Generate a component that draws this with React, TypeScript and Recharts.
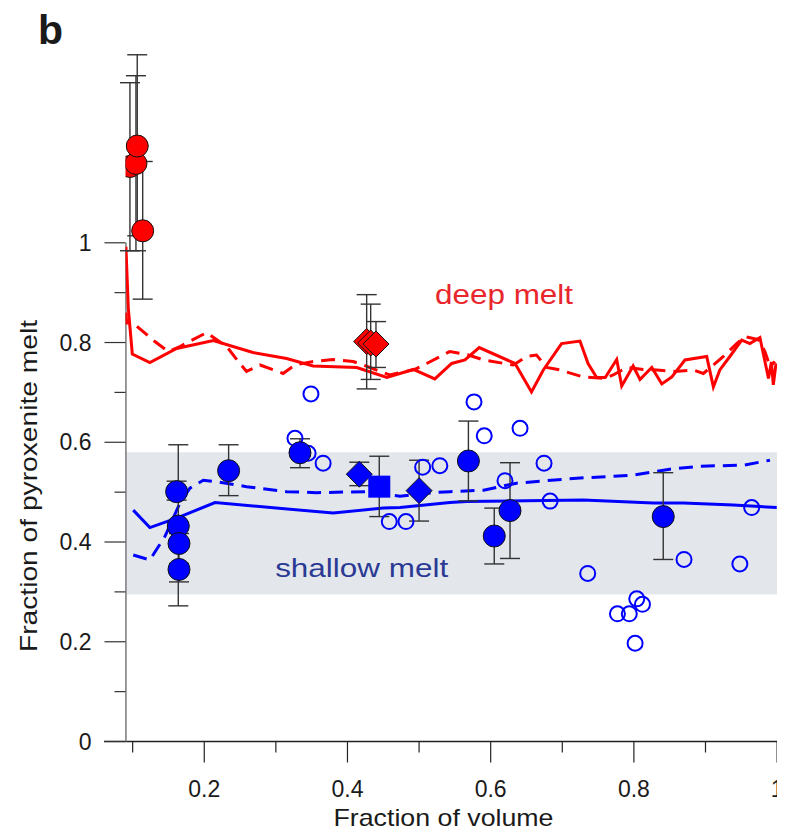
import React from "react";
import {
  ComposedChart,
  XAxis,
  YAxis,
  Scatter,
  Line,
  ErrorBar,
  ReferenceArea,
  ReferenceLine,
  ReferenceDot,
  Label,
} from "recharts";

const FONT = "Arial, 'Liberation Sans', Helvetica, sans-serif";
const RED = "#ff0000";
const BLUE = "#0000ff";

// ---- axes ----
const xTicks = [0.1, 0.2, 0.3, 0.4, 0.5, 0.6, 0.7, 0.8, 0.9, 1.0];
const xTickLabels = ["", "0.2", "", "0.4", "", "0.6", "", "0.8", "", "1"];
const yTicks = [0, 0.1, 0.2, 0.3, 0.4, 0.5, 0.6, 0.7, 0.8, 0.9, 1.0];
const yTickLabels = ["0", "", "0.2", "", "0.4", "", "0.6", "", "0.8", "", "1"];
const xDomain = [0.09, 1.0];
const yDomain = [0, 1.4];

// shaded band (shallow melt range)
const bandLow = 0.295;
const bandHigh = 0.58;

// ---- measured samples: [x, y, errLow, errHigh] ----
const redCircles = [
  [0.0962, 1.153, 0.169, 0.168],
  [0.1046, 1.159, 0.175, 0.176],
  [0.1064, 1.194, 0.18, 0.183],
  [0.114, 1.024, 0.137, 0.139],
];
const redDiamonds = [
  [0.4268, 0.802, 0.095, 0.094],
  [0.4324, 0.799, 0.073, 0.078],
  [0.4398, 0.797, 0.047, 0.045],
];
const blueCircles = [
  [0.1614, 0.501, 0.017, 0.021],
  [0.1637, 0.432, 0.16, 0.163],
  [0.1647, 0.397, 0.077, 0.02],
  [0.1647, 0.345, 0.01, 0.012],
  [0.234, 0.543, 0.05, 0.052],
  [0.3337, 0.579, 0.03, 0.028],
  [0.5689, 0.5625, 0.08, 0.08],
  [0.605, 0.412, 0.056, 0.056],
  [0.627, 0.463, 0.096, 0.096],
  [0.841, 0.451, 0.086, 0.088],
];
const blueDiamonds = [
  [0.4165, 0.536, 0.023, 0.024],
  [0.5, 0.503, 0.061, 0.061],
];
const blueSquares = [[0.4444, 0.511, 0.06, 0.061]];
const openCircles = [
  [0.349, 0.697], [0.3267, 0.608], [0.345, 0.578], [0.366, 0.558],
  [0.4584, 0.441], [0.4817, 0.441], [0.505, 0.55], [0.529, 0.553],
  [0.5767, 0.681], [0.591, 0.613], [0.641, 0.628], [0.62, 0.523],
  [0.6745, 0.558], [0.683, 0.482], [0.7355, 0.337], [0.777, 0.256],
  [0.7936, 0.256], [0.804, 0.286], [0.812, 0.275], [0.8017, 0.197],
  [0.87, 0.365], [0.948, 0.356], [0.9645, 0.469],
];

// ---- model curves: [x, y] ----
const deepSolid = [
  [0.0906, 0.992], [0.0939, 0.869], [0.0995, 0.777], [0.124, 0.76], [0.1614, 0.788],
  [0.2126, 0.804], [0.268, 0.78], [0.315, 0.768], [0.352, 0.753], [0.413, 0.75],
  [0.455, 0.73], [0.492, 0.746], [0.522, 0.727], [0.5455, 0.758], [0.564, 0.765],
  [0.584, 0.79], [0.634, 0.758], [0.657, 0.701], [0.6735, 0.745], [0.699, 0.798],
  [0.7247, 0.803], [0.736, 0.758], [0.748, 0.73], [0.76, 0.73], [0.776, 0.766],
  [0.783, 0.713], [0.799, 0.753], [0.8085, 0.726], [0.825, 0.75], [0.839, 0.717],
  [0.853, 0.731], [0.8713, 0.765], [0.9017, 0.772], [0.911, 0.711], [0.92, 0.745],
  [0.934, 0.772], [0.9506, 0.805], [0.962, 0.798], [0.976, 0.81], [0.988, 0.728],
  [0.992, 0.761], [0.9947, 0.715], [0.9985, 0.758],
];
const deepDashed = [
  [0.0906, 0.86], [0.0916, 0.839], [0.1008, 0.839], [0.131, 0.802], [0.1497, 0.782],
  [0.166, 0.792], [0.2033, 0.82], [0.215, 0.808], [0.2313, 0.792], [0.2475, 0.762],
  [0.259, 0.742], [0.2778, 0.755], [0.31, 0.738], [0.3267, 0.755], [0.352, 0.762],
  [0.38, 0.766], [0.408, 0.762], [0.4314, 0.75], [0.459, 0.735], [0.494, 0.746],
  [0.5106, 0.758], [0.543, 0.782], [0.569, 0.775], [0.59, 0.765], [0.6316, 0.755],
  [0.65, 0.772], [0.664, 0.775], [0.678, 0.75], [0.694, 0.746], [0.729, 0.731],
  [0.7597, 0.728], [0.771, 0.735], [0.79, 0.75], [0.813, 0.746], [0.832, 0.745],
  [0.8574, 0.742], [0.883, 0.745], [0.897, 0.738], [0.925, 0.772], [0.9436, 0.798],
  [0.955, 0.812], [0.9737, 0.806], [0.983, 0.782], [0.99, 0.752], [0.997, 0.762],
];
const shallowSolid = [
  [0.1008, 0.464], [0.124, 0.429], [0.1614, 0.448], [0.215, 0.479], [0.38, 0.458],
  [0.45, 0.468], [0.4734, 0.469], [0.543, 0.479], [0.5665, 0.481], [0.729, 0.484],
  [0.827, 0.478], [0.869, 0.478], [0.939, 0.474], [0.9995, 0.469],
];
const shallowDashed = [
  [0.1008, 0.374], [0.124, 0.364], [0.145, 0.411], [0.166, 0.478], [0.18, 0.508],
  [0.1986, 0.524], [0.217, 0.521], [0.259, 0.511], [0.315, 0.501], [0.357, 0.499],
  [0.427, 0.501], [0.4734, 0.492], [0.52, 0.499], [0.543, 0.501], [0.59, 0.504],
  [0.636, 0.518], [0.72, 0.528], [0.799, 0.534], [0.85, 0.546], [0.892, 0.552],
  [0.953, 0.554], [0.99, 0.564],
];

// annotation anchors (data coordinates, text baseline)
const deepLabelPos = { x: 0.6186, y: 0.877, text: "deep melt" };
const shallowLabelPos = { x: 0.4198, y: 0.3305, text: "shallow melt" };
const panelLetter = "b";

const toPts = (arr: number[][]) => arr.map(([x, y]) => ({ x, y }));
const toSamples = (arr: number[][]) =>
  arr.map(([x, y, lo, hi]) => ({ x, y, err: [lo, hi] }));

const circleShape = (fill: string, r: number) => (p: any) =>
  <circle cx={p.cx} cy={p.cy} r={r} fill={fill} stroke="#111" strokeWidth={1} />;
const diamondShape = (fill: string, h: number) => (p: any) =>
  (
    <path
      d={`M${p.cx},${p.cy - h}L${p.cx + h},${p.cy}L${p.cx},${p.cy + h}L${p.cx - h},${p.cy}Z`}
      fill={fill}
      stroke="#111"
      strokeWidth={1}
    />
  );
const squareShape = (fill: string, h: number) => (p: any) =>
  <rect x={p.cx - h} y={p.cy - h} width={2 * h} height={2 * h} fill={fill} />;
const openShape = (p: any) =>
  <circle cx={p.cx} cy={p.cy} r={7.5} fill="none" stroke={BLUE} strokeWidth={2} />;
const noShape = () => <g />;

const XTick = (props: any) => {
  const { x, y, payload } = props;
  const i = xTicks.indexOf(payload.value);
  const lab = i >= 0 ? xTickLabels[i] : "";
  const major = lab !== "";
  return (
    <g>
      <line x1={x} x2={x} y1={y} y2={y + (major ? 21 : 11)} stroke="#222" strokeWidth={1.2} />
      {major && (
        <text x={x} y={y + 55} textAnchor="middle" fontSize={23} fontFamily={FONT} fill="#1a1a1a">
          {lab}
        </text>
      )}
    </g>
  );
};

const YTick = (props: any) => {
  const { x, y, payload } = props;
  const i = yTicks.findIndex((t) => Math.abs(t - payload.value) < 1e-9);
  const lab = i >= 0 ? yTickLabels[i] : "";
  const major = lab !== "";
  return (
    <g>
      <line x1={x - (major ? 21 : 11)} x2={x} y1={y} y2={y} stroke="#333" strokeWidth={1.2} />
      {major && (
        <text x={x - 34} y={y + 8} textAnchor="end" fontSize={23} fontFamily={FONT} fill="#1a1a1a">
          {lab}
        </text>
      )}
    </g>
  );
};

const XTitle = (props: any) => {
  const vb = props.viewBox;
  return (
    <text
      x={vb.x + 318}
      y={818}
      textAnchor="middle"
      fontSize={24}
      fontFamily={FONT}
      fill="#1a1a1a"
      textLength={220}
      lengthAdjust="spacingAndGlyphs"
    >
      Fraction of volume
    </text>
  );
};

const YTitle = () => (
  <text
    x={0}
    y={0}
    transform="translate(29,478) rotate(-90)"
    textAnchor="middle"
    fontSize={24}
    fontFamily={FONT}
    fill="#1a1a1a"
    textLength={332}
    lengthAdjust="spacingAndGlyphs"
  >
    Fraction of pyroxenite melt
  </text>
);

const makeAnno = (text: string, color: string, size: number, len: number) => (props: any) => {
  const vb = props.viewBox;
  return (
    <text
      x={vb.x + (vb.width || 0) / 2}
      y={vb.y + (vb.height || 0) / 2}
      textAnchor="middle"
      fontSize={size}
      fontFamily={FONT}
      fill={color}
      textLength={len}
      lengthAdjust="spacingAndGlyphs"
    >
      {text}
    </text>
  );
};

export default function App() {
  const errProps = { dataKey: "err", direction: "y" as const, width: 10, stroke: "#333", strokeWidth: 1.4 };
  return (
    <div style={{ width: 777, height: 826, position: "relative" }}>
      <div
        style={{
          position: "absolute",
          left: 30,
          top: -2,
          fontFamily: FONT,
          fontWeight: "bold",
          fontSize: 41,
          lineHeight: "48px",
          color: "#1a1a1a",
          zIndex: 2,
        }}
      >
        {panelLetter}
      </div>
      <ComposedChart
        width={777}
        height={826}
        margin={{ top: 35.3, right: 7.9, bottom: 32.5, left: 0 }}
      >
        <XAxis
          type="number"
          dataKey="x"
          domain={xDomain}
          ticks={xTicks}
          allowDataOverflow
          axisLine={false}
          tickLine={false}
          tickSize={0}
          tickMargin={0}
          tick={<XTick />}
          height={60}
          interval={0}
        >
          <Label content={<XTitle />} />
        </XAxis>
        <YAxis
          type="number"
          dataKey="y"
          domain={yDomain}
          ticks={yTicks}
          allowDataOverflow
          axisLine={false}
          tickLine={false}
          tickSize={0}
          tickMargin={0}
          tick={<YTick />}
          width={117.5}
          interval={0}
        >
          <Label content={<YTitle />} />
        </YAxis>

        <ReferenceArea
          x1={0.0906}
          x2={1.005}
          y1={bandLow}
          y2={bandHigh}
          fill="#e3e7ec"
          fillOpacity={1}
          stroke="none"
          ifOverflow="visible"
        />
        <ReferenceLine
          segment={[{ x: 0.06, y: 0 }, { x: 1.0, y: 0 }]}
          stroke="#222"
          strokeWidth={1.3}
          ifOverflow="visible"
        />
        <ReferenceLine
          segment={[{ x: 0.0906, y: 0 }, { x: 0.0906, y: 1.0 }]}
          stroke="#808080"
          strokeWidth={1.6}
          ifOverflow="visible"
        />

        <Line data={toPts(shallowSolid)} dataKey="y" stroke={BLUE} strokeWidth={3} dot={false} isAnimationActive={false} type="linear" />
        <Line data={toPts(shallowDashed)} dataKey="y" stroke={BLUE} strokeWidth={3} strokeDasharray="14 8" dot={false} isAnimationActive={false} type="linear" />
        <Line data={toPts(deepSolid)} dataKey="y" stroke={RED} strokeWidth={3} dot={false} isAnimationActive={false} type="linear" />
        <Line data={toPts(deepDashed)} dataKey="y" stroke={RED} strokeWidth={3} strokeDasharray="14 8" dot={false} isAnimationActive={false} type="linear" />

        <Scatter data={toPts(openCircles)} dataKey="y" shape={openShape} isAnimationActive={false} />
        <Scatter data={toSamples(blueCircles)} dataKey="y" shape={circleShape(BLUE, 11)} isAnimationActive={false} />
        <Scatter data={toSamples(blueDiamonds)} dataKey="y" shape={diamondShape(BLUE, 13)} isAnimationActive={false} />
        <Scatter data={toSamples(blueSquares)} dataKey="y" shape={squareShape(BLUE, 11)} isAnimationActive={false} />
        <Scatter data={toSamples(redCircles)} dataKey="y" shape={circleShape(RED, 11)} isAnimationActive={false} />
        <Scatter data={toSamples(redDiamonds)} dataKey="y" shape={diamondShape(RED, 13)} isAnimationActive={false} />

        <Scatter data={toSamples(blueCircles)} dataKey="y" shape={noShape} isAnimationActive={false}>
          <ErrorBar {...errProps} />
        </Scatter>
        <Scatter data={toSamples(blueDiamonds)} dataKey="y" shape={noShape} isAnimationActive={false}>
          <ErrorBar {...errProps} />
        </Scatter>
        <Scatter data={toSamples(blueSquares)} dataKey="y" shape={noShape} isAnimationActive={false}>
          <ErrorBar {...errProps} />
        </Scatter>
        <Scatter data={toSamples(redCircles)} dataKey="y" shape={noShape} isAnimationActive={false}>
          <ErrorBar {...errProps} />
        </Scatter>
        <Scatter data={toSamples(redDiamonds)} dataKey="y" shape={noShape} isAnimationActive={false}>
          <ErrorBar {...errProps} />
        </Scatter>

        <ReferenceDot
          x={deepLabelPos.x}
          y={deepLabelPos.y}
          r={0}
          fill="none"
          stroke="none"
          label={makeAnno(deepLabelPos.text, "#e8262c", 27, 138)}
        />
        <ReferenceDot
          x={shallowLabelPos.x}
          y={shallowLabelPos.y}
          r={0}
          fill="none"
          stroke="none"
          label={makeAnno(shallowLabelPos.text, "#2b3a94", 26, 173)}
        />
      </ComposedChart>
    </div>
  );
}
